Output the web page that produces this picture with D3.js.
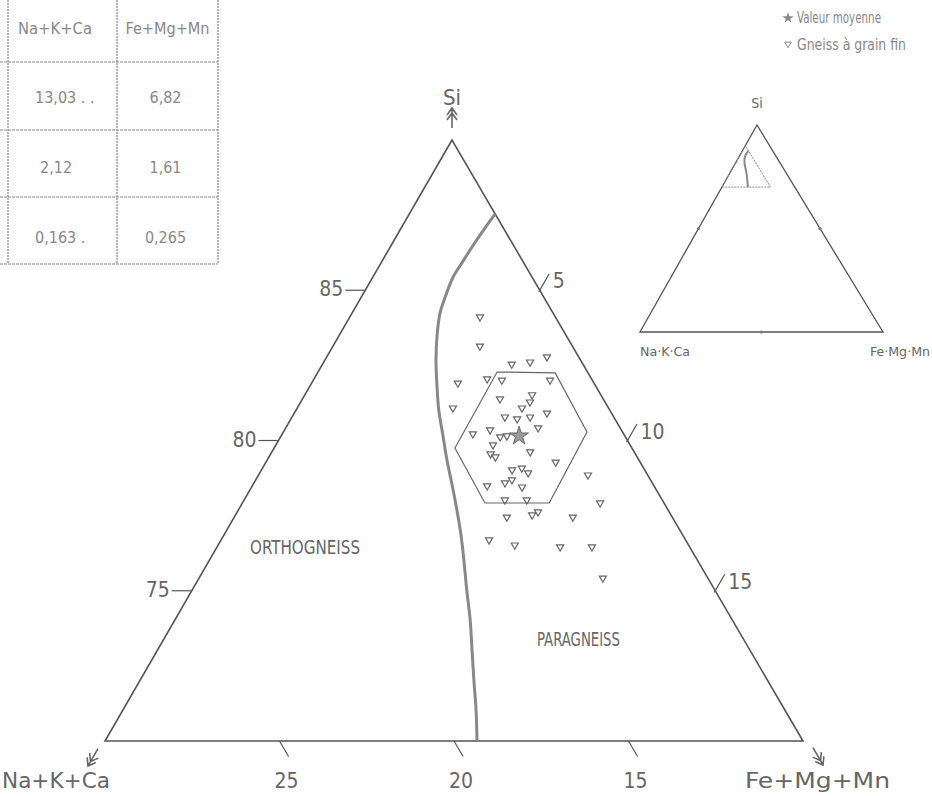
<!DOCTYPE html>
<html>
<head>
<meta charset="utf-8">
<script src="https://cdn.jsdelivr.net/npm/d3@7"></script>
<style>
  html, body { margin: 0; padding: 0; background: #fff; }
  svg { display: block; }
  text { font-family: "DejaVu Sans Condensed", "Liberation Sans Narrow", sans-serif; fill: #666; }
</style>
</head>
<body>
<div id="chart"></div>
<script>
// ternary values: Si and Fe+Mg+Mn, Na+K+Ca = 100 - Si - Fe
const siTicks = [75, 80, 85];
const feTicks = [5, 10, 15];
const naTicks = [25, 20, 15];

const tableHead = ["Na+K+Ca", "Fe+Mg+Mn"];
const tableMean = ["13,03 . .", "6,82"];
const tableStd = ["2,12", "1,61"];
const tableCv = ["0,163 .", "0,265"];

const meanNa = 13.03;
const meanFe = 6.82;

const siPts = [84.11, 83.14, 82.78, 82.61, 82.54, 82.01, 82.05, 82.01, 81.91, 81.08, 81.38, 81.52,
  81.28, 81.08, 80.91, 80.78, 80.72, 80.78, 80.42, 80.22, 80.35, 80.12, 80.15, 79.85, 79.62, 79.55,
  79.45, 79.28, 79.02, 79.08, 78.92, 78.59, 78.69, 78.45, 78.49, 78.85, 78.02, 78.02, 77.92, 77.45,
  77.52, 77.62, 77.45, 76.69, 76.52, 76.46, 76.46, 75.42];
const fePts = [3.73, 4.21, 6.31, 5.91, 5.42, 6.78, 4.96, 5.40, 4.19, 4.46, 5.66, 6.51,
  6.57, 6.44, 7.24, 6.10, 6.48, 6.82, 7.23, 5.46, 5.89, 6.29, 6.47, 6.22, 7.40, 6.30,
  6.49, 8.30, 7.18, 7.43, 7.69, 7.19, 7.34, 7.75, 6.73, 9.44, 7.47, 8.10, 10.25, 7.81,
  8.50, 8.62, 9.70, 7.68, 8.50, 9.83, 10.74, 11.57];

const siHex = [82.28, 82.25, 80.28, 77.92, 77.92, 79.75];
const feHex = [5.13, 6.81, 8.70, 8.79, 6.95, 5.18];

const siCurve = [87.54, 87.07, 86.54, 85.97, 85.44, 84.84, 84.24, 83.51, 82.68, 81.85, 81.01, 80.18,
  79.35, 78.52, 77.69, 76.86, 76.02, 75.02, 74.03, 73.03, 72.03, 71.03, 70];
const feCurve = [2.46, 2.40, 2.35, 2.32, 2.30, 2.39, 2.52, 2.80, 3.18, 3.62, 4.09, 4.62,
  5.15, 5.71, 6.26, 6.79, 7.29, 7.87, 8.46, 9.01, 9.56, 10.12, 10.66];

// sub-triangle corners (Si, Fe)
const siCorner = [90, 70, 70];
const feCorner = [0, 0, 20];

const W = 932, H = 796;
const svg = d3.select("#chart").append("svg")
  .attr("width", W).attr("height", H)
  .attr("viewBox", `0 0 ${W} ${H}`);

// main projection
const A = [452, 140], B = [105, 741], C = [803, 741];
const siY = d3.scaleLinear().domain([70, 90]).range([B[1], A[1]]);
const siX = d3.scaleLinear().domain([70, 90]).range([0, A[0] - B[0]]);
const feX = d3.scaleLinear().domain([0, 20]).range([0, C[0] - B[0]]);
const proj = (si, fe) => [B[0] + siX(si) + feX(fe), siY(si)];

// inset projection (full ternary)
const iA = [757, 125], iB = [640, 332], iC = [883, 332];
const isiY = d3.scaleLinear().domain([0, 100]).range([iB[1], iA[1]]);
const isiX = d3.scaleLinear().domain([0, 100]).range([0, iA[0] - iB[0]]);
const ifeX = d3.scaleLinear().domain([0, 100]).range([0, iC[0] - iB[0]]);
const iproj = (si, fe) => [iB[0] + isiX(si) + ifeX(fe), isiY(si)];

const ink = "#555";

// ---- table
const tg = svg.append("g");
const colX = [8, 117, 218];
const rowY = [62, 130, 197, 264];
colX.forEach(x => tg.append("line").attr("x1", x).attr("x2", x).attr("y1", 0).attr("y2", 264)
  .attr("stroke", "#888").attr("stroke-width", 1.2).attr("stroke-dasharray", "2,1"));
rowY.forEach(y => tg.append("line").attr("x1", 0).attr("x2", 218).attr("y1", y).attr("y2", y)
  .attr("stroke", "#888").attr("stroke-width", 1.2).attr("stroke-dasharray", "3,1"));
const rows = [tableHead, tableMean, tableStd, tableCv];
const rowMid = [29, 98, 168, 238];
rows.forEach((r, i) => {
  r.forEach((t, j) => {
    const cell = tg.append("text")
      .attr("x", j === 0 ? (i === 0 ? 18 : (i === 2 ? 40 : 35)) : (colX[1] + colX[2]) / 2 + (i === 0 ? 0 : -2))
      .attr("y", rowMid[i])
      .attr("text-anchor", j === 0 ? "start" : "middle")
      .attr("dominant-baseline", "middle")
      .style("font-size", "16px")
      .style("fill", "#888")
      .text(t);
    if (i === 0) cell.attr("textLength", j === 0 ? 74 : 84).attr("lengthAdjust", "spacingAndGlyphs");
  });
});

// ---- legend
const lg = svg.append("g");
lg.append("path").attr("d", d3.symbol(d3.symbolStar, 40)())
  .attr("transform", "translate(788,18)").attr("fill", "#888");
lg.append("text").attr("x", 797).attr("y", 18).attr("dominant-baseline", "middle")
  .attr("textLength", 84).attr("lengthAdjust", "spacingAndGlyphs")
  .style("font-size", "15px").style("fill", "#888").text("Valeur moyenne");
lg.append("path").attr("d", d3.symbol(d3.symbolTriangle, 18)())
  .attr("transform", "translate(788,44) rotate(180)").attr("fill", "none").attr("stroke", "#888");
lg.append("text").attr("x", 797).attr("y", 45).attr("dominant-baseline", "middle")
  .attr("textLength", 109).attr("lengthAdjust", "spacingAndGlyphs")
  .style("font-size", "15px").style("fill", "#888").text("Gneiss à grain fin");

// ---- main triangle
const line = d3.line();
const corners = siCorner.map((s, i) => proj(s, feCorner[i]));
svg.append("path").attr("d", line(corners) + "Z")
  .attr("fill", "none").attr("stroke", ink).attr("stroke-width", 1.6);

// boundary curve
svg.append("path")
  .attr("d", d3.line().curve(d3.curveCatmullRom)(siCurve.map((s, i) => proj(s, feCurve[i]))))
  .attr("fill", "none").attr("stroke", "#888").attr("stroke-width", 3);

// hexagon
svg.append("path").attr("d", line(siHex.map((s, i) => proj(s, feHex[i]))) + "Z")
  .attr("fill", "none").attr("stroke", "#666").attr("stroke-width", 1.2);

// Si ticks (left edge, horizontal)
siTicks.forEach(s => {
  const [x, y] = proj(s, 0);
  svg.append("line").attr("x1", x - 20).attr("x2", x).attr("y1", y).attr("y2", y)
    .attr("stroke", ink).attr("stroke-width", 1.2);
  svg.append("text").attr("x", x - 22).attr("y", y).attr("text-anchor", "end")
    .attr("dominant-baseline", "middle").style("font-size", "21px").text(s);
});

// Fe ticks (right edge, parallel to left edge)
const dirL = [(A[0] - B[0]), (A[1] - B[1])];
const lenL = Math.hypot(dirL[0], dirL[1]);
feTicks.forEach(f => {
  const [x, y] = proj(90 - f, f);
  const dx = dirL[0] / lenL * 19, dy = dirL[1] / lenL * 19;
  svg.append("line").attr("x1", x - dx * 0.1).attr("y1", y - dy * 0.1).attr("x2", x + dx).attr("y2", y + dy)
    .attr("stroke", ink).attr("stroke-width", 1.2);
  svg.append("text").attr("x", x + 13).attr("y", y - 8)
    .attr("dominant-baseline", "middle").style("font-size", "21px").text(f);
});

// Na ticks (base, parallel to right edge)
const dirR = [(C[0] - A[0]), (C[1] - A[1])];
const lenR = Math.hypot(dirR[0], dirR[1]);
naTicks.forEach(n => {
  const [x, y] = proj(70, 30 - n);
  const dx = dirR[0] / lenR * 18, dy = dirR[1] / lenR * 18;
  svg.append("line").attr("x1", x).attr("y1", y).attr("x2", x + dx).attr("y2", y + dy)
    .attr("stroke", ink).attr("stroke-width", 1.2);
  svg.append("text").attr("x", x + 7).attr("y", 782).attr("text-anchor", "middle")
    .attr("dominant-baseline", "middle").style("font-size", "21px").text(n);
});

// corner arrows and labels
function arrow(x, y, angle) {
  const g = svg.append("g").attr("transform", `translate(${x},${y}) rotate(${angle})`);
  g.append("path").attr("d", "M0,0 L0,20 M-5,7 L0,0 L5,7 M-5,12 L0,5 L5,12")
    .attr("fill", "none").attr("stroke", "#666").attr("stroke-width", 1.6);
}
arrow(A[0], 108, 0);
arrow(88, 766, -150);
arrow(823, 765, 150);

svg.append("text").attr("x", A[0]).attr("y", 99).attr("text-anchor", "middle")
  .attr("dominant-baseline", "middle").style("font-size", "22px").text("Si");
svg.append("text").attr("x", 2).attr("y", 782).attr("dominant-baseline", "middle")
  .attr("textLength", 108).attr("lengthAdjust", "spacingAndGlyphs")
  .style("font-size", "22px").text("Na+K+Ca");
svg.append("text").attr("x", 745).attr("y", 782).attr("dominant-baseline", "middle")
  .attr("textLength", 145).attr("lengthAdjust", "spacingAndGlyphs")
  .style("font-size", "22px").text("Fe+Mg+Mn");

// field labels
svg.append("text").attr("x", 250).attr("y", 548).attr("dominant-baseline", "middle")
  .attr("textLength", 110).attr("lengthAdjust", "spacingAndGlyphs")
  .style("font-size", "20px").text("ORTHOGNEISS");
svg.append("text").attr("x", 537).attr("y", 640).attr("dominant-baseline", "middle")
  .attr("textLength", 83).attr("lengthAdjust", "spacingAndGlyphs")
  .style("font-size", "20px").text("PARAGNEISS");

// samples
svg.append("g").selectAll("path")
  .data(siPts.map((s, i) => proj(s, fePts[i])))
  .join("path")
  .attr("d", d3.symbol(d3.symbolTriangle, 22)())
  .attr("transform", d => `translate(${d[0]},${d[1]}) rotate(180)`)
  .attr("fill", "none").attr("stroke", "#666").attr("stroke-width", 1.2);

// mean
const meanPt = proj(100 - meanNa - meanFe, meanFe);
svg.append("path").attr("d", d3.symbol(d3.symbolStar, 110)())
  .attr("transform", `translate(${meanPt[0]},${meanPt[1]})`)
  .attr("fill", "#999").attr("stroke", "#555").attr("stroke-width", 0.8);

// ---- inset
const ig = svg.append("g");
ig.append("path").attr("d", line([iproj(100, 0), iproj(0, 0), iproj(0, 100)]) + "Z")
  .attr("fill", "none").attr("stroke", ink).attr("stroke-width", 1.3);
ig.append("path").attr("d", line(siCorner.map((s, i) => iproj(s, feCorner[i]))) + "Z")
  .attr("fill", "none").attr("stroke", "#888").attr("stroke-width", 1).attr("stroke-dasharray", "2,1");
ig.append("path")
  .attr("d", d3.line().curve(d3.curveCatmullRom)(siCurve.map((s, i) => iproj(s, feCurve[i]))))
  .attr("fill", "none").attr("stroke", "#888").attr("stroke-width", 2);
// mid ticks
[[50, 0], [50, 50], [0, 50]].forEach(([s, f]) => {
  const [x, y] = iproj(s, f);
  ig.append("circle").attr("cx", x).attr("cy", y).attr("r", 1.6).attr("fill", "#777");
});
ig.append("text").attr("x", iA[0]).attr("y", 104).attr("text-anchor", "middle")
  .attr("dominant-baseline", "middle").style("font-size", "14px").text("Si");
ig.append("text").attr("x", 640).attr("y", 352)
  .attr("textLength", 50).attr("lengthAdjust", "spacingAndGlyphs")
  .attr("dominant-baseline", "middle").style("font-size", "12px").text("Na·K·Ca");
ig.append("text").attr("x", 870).attr("y", 352)
  .attr("textLength", 60).attr("lengthAdjust", "spacingAndGlyphs")
  .attr("dominant-baseline", "middle").style("font-size", "12px").text("Fe·Mg·Mn");
</script>
</body>
</html>
